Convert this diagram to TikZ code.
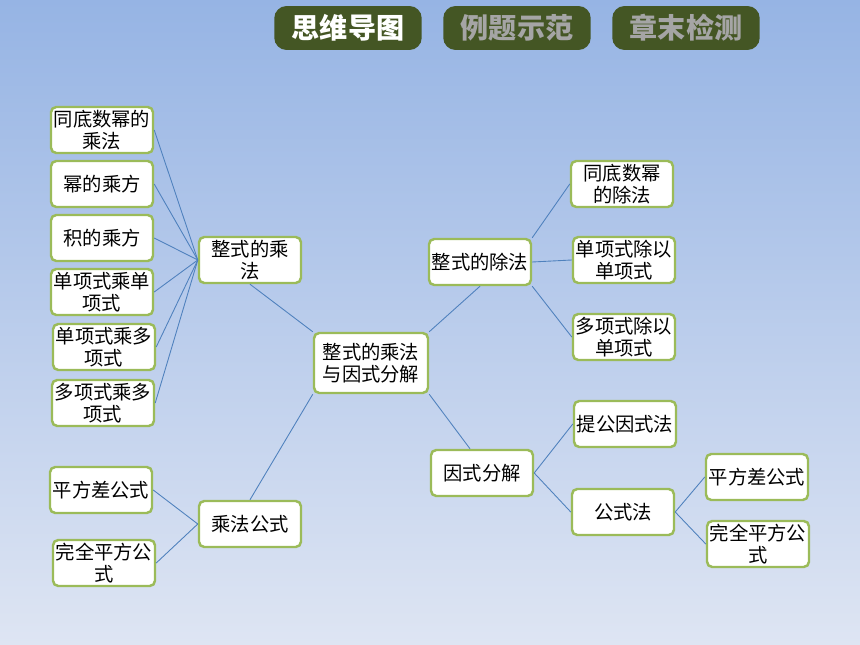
\documentclass[tikz,border=0pt]{standalone}
\usepackage{fontspec}
\setmainfont{Noto Sans CJK SC}
\usepackage{xcolor}
\definecolor{bgtop}{RGB}{150,180,228}
\definecolor{bgbot}{RGB}{222,229,243}
\definecolor{green3}{RGB}{155,187,89}
\definecolor{blue3}{RGB}{79,129,189}
\definecolor{olive3}{RGB}{68,86,36}
\definecolor{gray3}{RGB}{165,165,165}
\usepackage{tikz}

\begin{document}
\begin{tikzpicture}[x=0.02cm, y=-0.02cm,
    box/.style={draw=green3, line width=1.4pt, fill=white, rounded corners=3pt,
        minimum width=2.04cm, minimum height=0.92cm, inner sep=1pt,
        align=center, font=\fontsize{11}{12.5}\selectfont},
    tab/.style={fill=olive3, rounded corners=7pt, minimum width=2.95cm,
        minimum height=0.88cm, font=\fontsize{16}{18}\selectfont\bfseries},
    link/.style={blue3, line width=0.5pt}]

% Background
\shade[top color=bgtop, bottom color=bgbot] (0,0) rectangle (860,645);
\useasboundingbox (0,0) rectangle (860,645);

% Tabs at the top
\node[tab, text=white] (tmap) at (348,28) {思维导图};
\node[tab, text=gray3] (tex) at (517,28) {例题示范};
\node[tab, text=gray3] (tend) at (686,28) {章末检测};

% Root
\node[box, minimum width=2.28cm, minimum height=1.2cm] (root) at (371,363)
    {整式的乘法\\与因式分解};

% Multiplication branch
\node[box] (mul) at (250,260) {整式的乘\\法};
\node[box] (m1) at (102,130) {同底数幂的\\乘法};
\node[box] (m2) at (102,184) {幂的乘方};
\node[box] (m3) at (102,238) {积的乘方};
\node[box] (m4) at (102,292) {单项式乘单\\项式};
\node[box] (m5) at (104,347) {单项式乘多\\项式};
\node[box] (m6) at (103,403) {多项式乘多\\项式};

% Product formulas
\node[box] (form) at (250,524) {乘法公式};
\node[box] (f1) at (101,490) {平方差公式};
\node[box] (f2) at (104,563) {完全平方公\\式};

% Division branch
\node[box] (div) at (480,262) {整式的除法};
\node[box] (d1) at (622,184) {同底数幂\\的除法};
\node[box] (d2) at (624,260) {单项式除以\\单项式};
\node[box] (d3) at (624,337) {多项式除以\\单项式};

% Factorization branch
\node[box] (fac) at (482,473) {因式分解};
\node[box] (c1) at (625,424) {提公因式法};
\node[box] (c2) at (623,512) {公式法};
\node[box] (c3) at (757,477) {平方差公式};
\node[box] (c4) at (758,544) {完全平方公\\式};

% Links
\foreach \n in {m1,m2,m3,m4,m5,m6}
    \draw[link] (\n.east) -- (mul.west);
\foreach \n in {f1,f2}
    \draw[link] (\n.east) -- (form.west);
\draw[link] (mul.south) -- (root.north west);
\draw[link] (form.north) -- (root.south west);
\draw[link] (root.north east) -- (div.south);
\draw[link] (root.south east) -- ([xshift=-0.24cm]fac.north);
\draw[link] (div.north east) -- (d1.west);
\draw[link] (div.east) -- (d2.west);
\draw[link] (div.south east) -- (d3.west);
\draw[link] (fac.east) -- (c1.west);
\draw[link] (fac.east) -- (c2.west);
\draw[link] (c2.east) -- (c3.west);
\draw[link] (c2.east) -- (c4.west);

\end{tikzpicture}
\end{document}
